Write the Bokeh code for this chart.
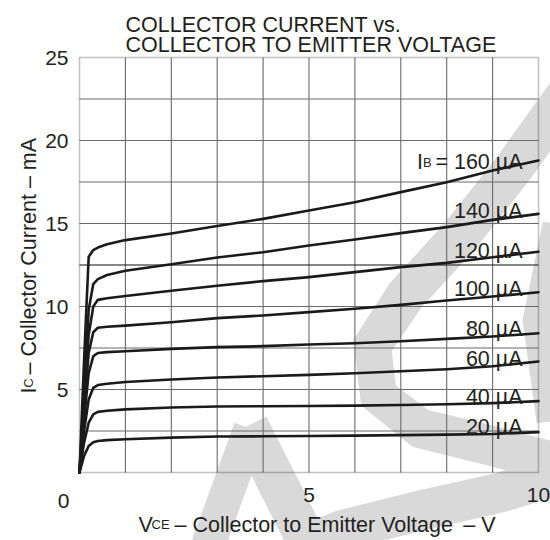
import numpy as np
from bokeh.plotting import figure
from bokeh.models import Range1d, FixedTicker, Label, PolyAnnotation, BoxAnnotation
from bokeh.embed import file_html
from bokeh.resources import INLINE

# ---------------- data ----------------
vce = [0, 0.1, 0.2, 0.3, 0.4, 0.6, 1, 2, 3, 4, 5, 6, 7, 8, 9, 10]
ic_160 = [0, 6.8, 13.0, 13.4, 13.55, 13.75, 14.0, 14.4, 14.85, 15.28, 15.78, 16.28, 16.89, 17.49, 18.19, 18.8]
ic_140 = [0, 5.0, 9.8, 11.35, 11.65, 11.9, 12.15, 12.55, 12.95, 13.27, 13.67, 14.04, 14.42, 14.78, 15.22, 15.58]
ic_120 = [0, 4.2, 8.3, 10.0, 10.4, 10.5, 10.63, 10.95, 11.25, 11.53, 11.77, 12.07, 12.37, 12.63, 12.97, 13.3]
ic_100 = [0, 3.8, 7.2, 8.45, 8.72, 8.78, 8.85, 9.05, 9.3, 9.46, 9.66, 9.86, 10.1, 10.36, 10.6, 10.86]
ic_80 = [0, 3.2, 6.0, 7.0, 7.2, 7.25, 7.3, 7.45, 7.55, 7.61, 7.71, 7.79, 7.91, 8.05, 8.19, 8.39]
ic_60 = [0, 2.5, 4.4, 5.1, 5.27, 5.35, 5.45, 5.6, 5.72, 5.8, 5.88, 5.98, 6.1, 6.22, 6.4, 6.69]
ic_40 = [0, 1.8, 3.0, 3.5, 3.65, 3.72, 3.8, 3.92, 3.98, 3.99, 4.01, 4.03, 4.07, 4.11, 4.18, 4.3]
ic_20 = [0, 1.0, 1.6, 1.82, 1.9, 1.95, 2.0, 2.1, 2.17, 2.18, 2.2, 2.22, 2.25, 2.28, 2.32, 2.43]
curves = [ic_160, ic_140, ic_120, ic_100, ic_80, ic_60, ic_40, ic_20]

ib_labels = ["160 µA", "140 µA", "120 µA", "100 µA", "80 µA", "60 µA", "40 µA", "20 µA"]
x_ticks = [5, 10]
y_ticks = [5, 10, 15, 20, 25]
x_grid = [1, 2, 3, 4, 5, 6, 7, 8, 9]
y_grid = [2.5, 5, 7.5, 10, 12.5, 15, 17.5, 20, 22.5]
x_lim = [0, 10]
y_lim = [0, 25]

title_lines = ["COLLECTOR CURRENT vs.", "COLLECTOR TO EMITTER VOLTAGE"]

# ---------------- layout helpers (pixel -> data) ----------------
FONT = "Liberation Sans"
FS = "21.5px"
TICK_FS = "21px"
SMALL = "13px"
TXT = "#231f20"
W, H = 550, 540

def dx(px):
    return (px - 79) / 45.9

def dy(py):
    return (472 - py) / 16.6

p = figure(width=W, height=H, output_backend="svg", toolbar_location=None,
           x_range=Range1d(dx(0), dx(W)), y_range=Range1d(dy(H), dy(0)),
           min_border=0, min_border_left=0, min_border_right=0,
           min_border_top=0, min_border_bottom=0)
p.background_fill_color = "white"
p.border_fill_color = "white"
p.outline_line_color = None
p.grid.visible = False

# watermark (decorative light-grey strokes)
def stroke(path, w):
    pts = np.array(path, dtype=float)
    n = len(pts)
    normals = []
    for i in range(n):
        a = pts[max(i - 1, 0)]
        b = pts[min(i + 1, n - 1)]
        t = b - a
        t = t / np.hypot(*t)
        normals.append(np.array([-t[1], t[0]]))
    normals = np.array(normals)
    left = pts + normals * w / 2
    right = pts - normals * w / 2
    poly = np.vstack([left, right[::-1]])
    return [dx(v) for v in poly[:, 0]], [dy(v) for v in poly[:, 1]]

wm_paths = [
    ([(565, 95), (515, 165), (460, 235), (405, 295), (372, 345), (378, 395),
      (420, 428), (490, 445), (555, 462)], 40),
    ([(580, 468), (500, 492), (420, 510), (340, 530), (290, 550)], 40),
    ([(250, 428), (205, 552)], 34),
    ([(248, 425), (312, 552)], 40),
    ([(562, 225), (542, 320), (556, 420)], 40),
]
for path, w in wm_paths:
    xs, ys = stroke(path, w)
    p.add_layout(PolyAnnotation(xs=xs, ys=ys, fill_color="#d9d9d9", fill_alpha=1.0,
                                line_color=None, level="image"))

# grid lines inside the data area
p.segment(x0=x_grid, y0=[y_lim[0]] * len(x_grid), x1=x_grid, y1=[y_lim[1]] * len(x_grid),
          line_color="#6a6a6a", line_width=1.1)
ycol = ["#111111" if v == 12.5 else "#6a6a6a" for v in y_grid]
p.segment(x0=[x_lim[0]] * len(y_grid), y0=y_grid, x1=[x_lim[1]] * len(y_grid), y1=y_grid,
          line_color=ycol, line_width=1.1)

# frame outline
p.add_layout(BoxAnnotation(left=x_lim[0], right=x_lim[1], bottom=y_lim[0], top=y_lim[1],
                           fill_color=None, line_color="#333333", line_width=1.5))

# axes fixed at the data origin
p.xaxis.fixed_location = 0
p.yaxis.fixed_location = 0
p.xaxis.ticker = FixedTicker(ticks=x_ticks)
p.yaxis.ticker = FixedTicker(ticks=y_ticks)
for ax in (p.xaxis[0], p.yaxis[0]):
    ax.axis_line_color = None
    ax.major_tick_line_color = None
    ax.minor_tick_line_color = None
    ax.major_tick_out = 0
    ax.major_tick_in = 0
    ax.major_label_text_font = FONT
    ax.major_label_text_font_size = TICK_FS
    ax.major_label_text_color = TXT
p.yaxis.major_label_standoff = 11
p.xaxis.major_label_standoff = 15

# curves
for ic in curves:
    p.line(vce, ic, line_color="#1a1a1a", line_width=2.6, line_join="round", line_cap="round")

def lab(x, y, text, size=FS, align="left", angle=0.0):
    p.add_layout(Label(x=x, y=y, text=text, text_font=FONT, text_font_size=size,
                       text_color=TXT, text_align=align, text_baseline="alphabetic",
                       angle=angle))

# title
lab(dx(125), dy(24), title_lines[0])
lab(dx(125), dy(44), title_lines[1])

# "0" origin label
lab(dx(63), dy(500), "0", size=TICK_FS, align="center")

# curve labels
label_baselines = [161.7, 210.7, 250, 288.3, 328.3, 358.3, 396.7, 426.7]
for i, (txt, b) in enumerate(zip(ib_labels, label_baselines)):
    if i == 0:
        lab(dx(416.6), dy(b), "I")
        lab(dx(422.4), dy(b), "B", size=SMALL)
        lab(dx(522), dy(b), "= " + txt, align="right")
    else:
        lab(dx(522), dy(b), txt, align="right")

# x axis title: V_CE – Collector to Emitter Voltage  – V
lab(dx(138), dy(524), "V")
lab(dx(151), dy(524), "CE", size=SMALL)
lab(dx(174), dy(524), "– Collector to Emitter Voltage")
lab(dx(495), dy(524), "– V", align="right")

# y axis title (rotated): I_C – Collector Current – mA
ang = np.pi / 2
lab(dx(28), dy(393), "I", angle=ang)
lab(dx(28), dy(387.2), "C", size=SMALL, angle=ang)
lab(dx(28), dy(374), "– Collector Current – mA", angle=ang)

open("out.html", "w").write(file_html(p, INLINE))
